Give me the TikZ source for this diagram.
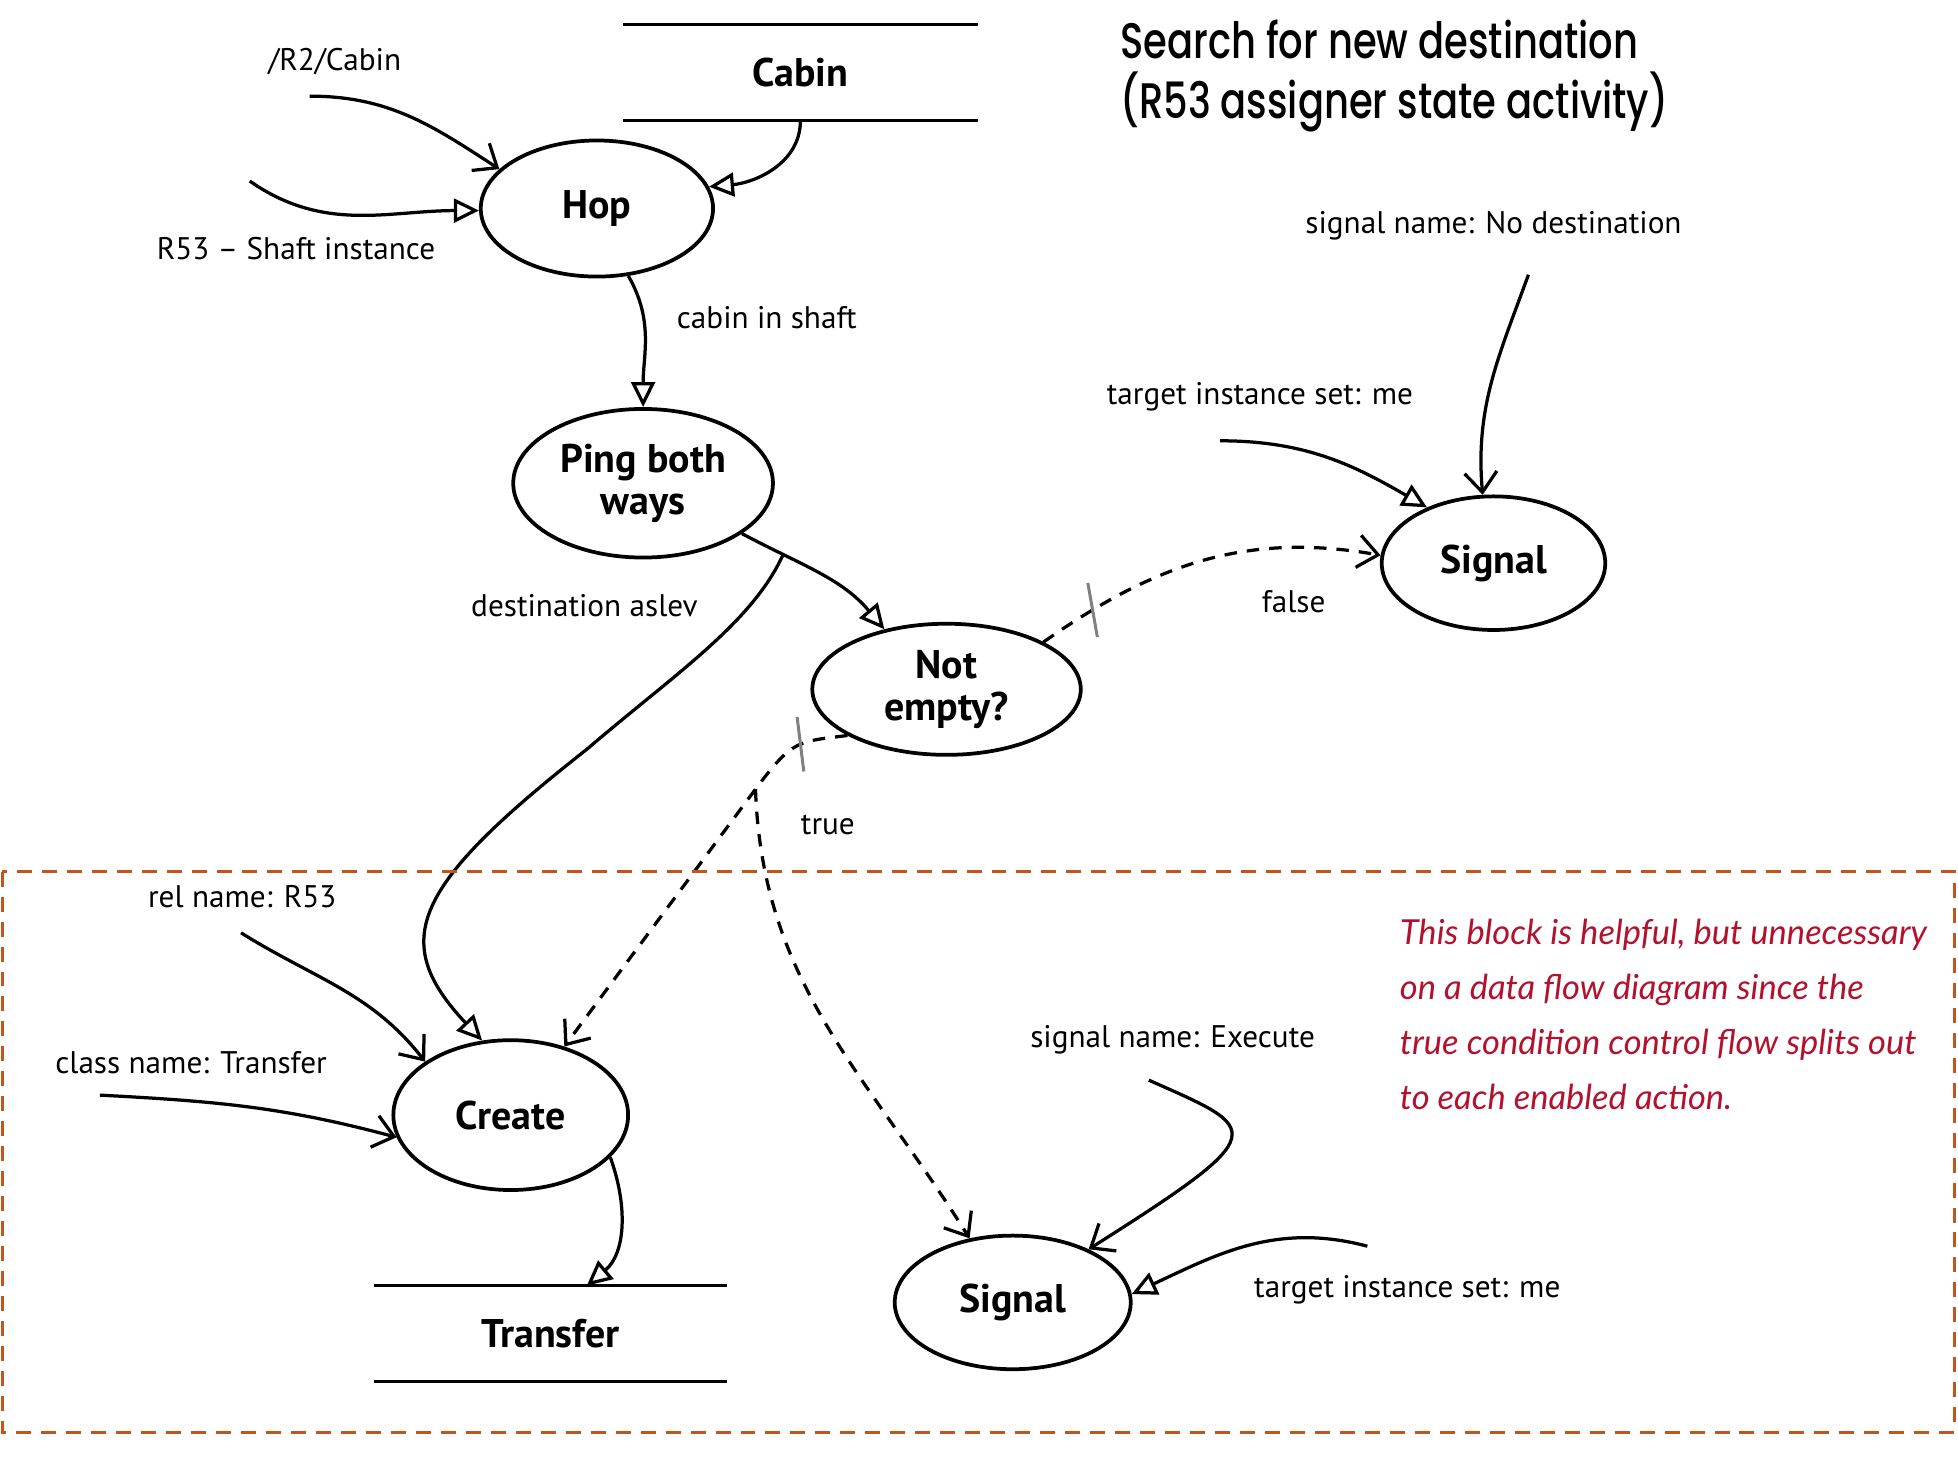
\documentclass[tikz,border=0pt]{standalone}
\usepackage{fontspec}
\setmainfont{PT Sans}
\newfontfamily\titlefont[FakeStretch=0.77,UprightFont={* Medium}]{Poppins}
\newfontfamily\notefont{Lato}
\usetikzlibrary{arrows.meta,shapes.geometric}
\definecolor{framecol}{HTML}{C0561C}
\definecolor{notecol}{HTML}{B3122E}

\begin{document}
\begin{tikzpicture}[x=0.5pt,y=0.5pt,
  proc/.style={ellipse,draw,line width=1.5pt,inner sep=0pt,align=center,
    font=\fontsize{16}{17}\selectfont\bfseries},
  store/.style={minimum width=141.5pt,minimum height=38pt,inner sep=0pt,
    font=\fontsize{16}{17}\selectfont\bfseries},
  lbl/.style={font=\fontsize{12.5}{14}\selectfont},
  flow/.style={line width=1.3pt,-{Triangle[open,length=10pt,width=9.5pt]}},
  feed/.style={line width=1.3pt,-{Straight Barb[length=8pt,width=13pt]}},
  ctrl/.style={feed,dash pattern=on 5pt off 4pt},
  tickmark/.style={draw=gray,solid,line width=1.2pt,minimum width=0pt,minimum height=22pt,inner sep=0pt}]
\useasboundingbox (0,0) rectangle (1568,1179);

\node[font=\titlefont\fontsize{20}{24}\selectfont,align=left,anchor=north west] (title) at (890,1170)
  {Search for new destination\\(R53 assigner state activity)};

\node[store] (cabin) at (641,1121) {Cabin};
\draw[line width=1.4pt] (cabin.north west) -- (cabin.north east) (cabin.south west) -- (cabin.south east);
\node[store,minimum width=141pt] (transfer) at (441,111) {Transfer};
\draw[line width=1.4pt] (transfer.north west) -- (transfer.north east) (transfer.south west) -- (transfer.south east);

\node[proc,minimum width=93pt,minimum height=54.5pt] (hop) at (478,1012) {Hop};
\node[proc,minimum width=104pt,minimum height=59.5pt] (ping) at (515,792) {Ping both\\ways};
\node[proc,minimum width=107.5pt,minimum height=52.5pt] (notempty) at (758,627) {Not\\empty?};
\node[proc,minimum width=89.5pt,minimum height=53.5pt] (sigA) at (1196,728) {Signal};
\node[proc,minimum width=94pt,minimum height=60pt] (create) at (409,286) {Create};
\node[proc,minimum width=94.5pt,minimum height=53.5pt] (sigB) at (811,136) {Signal};

\node[lbl] (r2lbl) at (268,1130) {/R2/Cabin};
\node[lbl] (shaftlbl) at (237,980) {R53 -- Shaft instance};
\node[lbl] (inshaft) at (614,925) {cabin in shaft};
\node[lbl] (destlbl) at (468,694) {destination aslev};
\node[lbl] (falselbl) at (1036,697) {false};
\node[lbl] (truelbl) at (663,518) {true};
\node[lbl] (tgtAlbl) at (1009,861) {target instance set: me};
\node[lbl] (snameAlbl) at (1196,998) {signal name: No destination};
\node[lbl] (rellbl) at (194,461) {rel name: R53};
\node[lbl] (clslbl) at (153,328) {class name: Transfer};
\node[lbl] (snameBlbl) at (939,346) {signal name: Execute};
\node[lbl] (tgtBlbl) at (1127,146) {target instance set: me};

\coordinate (r2) at (248,1102);
\coordinate (shaft) at (200,1034);
\coordinate (tgtA) at (977,826);
\coordinate (snameA) at (1224,959);
\coordinate (rel) at (193,432);
\coordinate (cls) at (80,302);
\coordinate (snameB) at (920,314);
\coordinate (tgtB) at (1095,181);
\coordinate (tsplit) at (605,547);

\draw[feed] (r2) to[out=0,in=147] (hop.158);
\draw[flow] (shaft) to[out=-35,in=180] (hop.181);
\draw[flow] (cabin.south) to[out=-90,in=5] (hop.11);
\draw[flow] (hop.-65) to[out=-60,in=90] (ping.north);
\draw[flow] (ping.-27) to[out=-28,in=130] coordinate[pos=0.25] (dsplit) (notempty.136);
\draw[flow] (dsplit) .. controls +(-25,-55) and +(70,60) .. (470,579)
  .. controls +(-140,-110) and +(-75,80) .. (create.111);

\draw[ctrl] (notempty.26) to[out=35,in=170] node[pos=0.15,tickmark,rotate=10]{} (sigA.176);
\draw[ctrl] (notempty.205) .. controls +(-40,-5) and +(30,40) .. (tsplit)
  node[pos=0.45,tickmark,rotate=7]{} -- (create.52);
\draw[ctrl] (tsplit) to[out=-88,in=122] (sigB.124);

\draw[flow] (tgtA) to[out=0,in=150] (sigA.140);
\draw[feed] (snameA) to[out=-110,in=95] (sigA.99);
\draw[feed] (rel) to[out=-32,in=128] (create.148);
\draw[feed] (cls) to[out=-3,in=165] (create.191);
\draw[flow] (create.-23) to[out=-70,in=40] (transfer.53);
\draw[feed] (snameB) .. controls +(90,-40) and +(150,95) .. (sigB.35);
\draw[flow] (tgtB) to[out=165,in=25] (sigB.4);

\draw[framecol,line width=1.2pt,dash pattern=on 6pt off 4pt] (2,481) rectangle (1565,32);
\node[font=\notefont\itshape\fontsize{13.8}{22}\selectfont,text=notecol,align=left,anchor=north west] (note) at (1114,450)
  {This block is helpful, but unnecessary\\on a data flow diagram since the\\true condition control flow splits out\\to each enabled action.};
\end{tikzpicture}
\end{document}
